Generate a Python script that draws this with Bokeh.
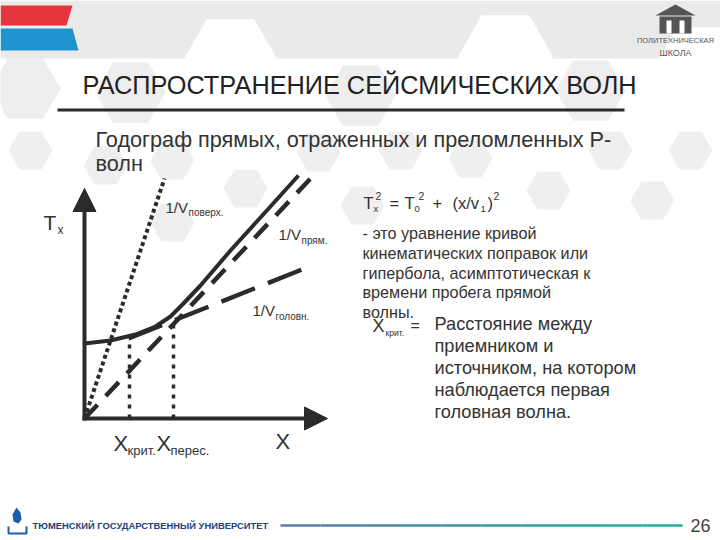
from bokeh.plotting import figure
from bokeh.models import Range1d, Arrow, NormalHead
from bokeh.core.properties import value
from bokeh.embed import file_html
from bokeh.resources import INLINE

# ---------------- data (diagram units) ----------------
refl_x = [0.0, 1.3, 2.55, 3.55, 4.3, 4.9, 5.8, 7.3, 8.8, 10.7]
refl_t = [3.75, 3.9, 4.2, 4.6, 5.1, 5.7, 6.65, 8.4, 10.05, 12.15]
direct_x = [0.0, 11.4]
direct_t = [0.0, 12.1]
head_x = [2.2, 11.0]
head_t = [4.0, 7.5]
surface_x = [0.0, 4.0]
surface_t = [0.0, 12.0]
x_marks = [2.25, 4.45]          # X крит., X перес.
t_marks = [4.0, 4.8]
axis_x_end = 12.15
axis_t_end = 11.5

# ---------------- texts ----------------
title = "РАСПРОСТРАНЕНИЕ СЕЙСМИЧЕСКИХ ВОЛН"
subtitle = ["Годограф прямых, отраженных и преломленных P-", "волн"]
eq_lines = ["- это уравнение кривой", "кинематических поправок или",
            "гипербола, асимптотическая к", "времени пробега прямой", "волны."]
def_lines = ["Расстояние между", "приемником и", "источником, на котором",
             "наблюдается первая", "головная волна."]
footer = "ТЮМЕНСКИЙ ГОСУДАРСТВЕННЫЙ УНИВЕРСИТЕТ"
page_no = "26"

FONT = "Liberation Sans"
INK = "#2b2b2b"
TXT = "#333333"

W, H = 720, 540
p = figure(width=W, height=H, x_range=Range1d(0, W), y_range=Range1d(H, 0),
           output_backend="svg", toolbar_location=None, min_border=0,
           outline_line_color=None, background_fill_color="white")
p.axis.visible = False
p.grid.visible = False

# diagram coordinate system (origin at pixel 84,418; 20 px per unit)
OX, OY, U = 84.0, 418.0, 20.0
p.extra_x_ranges = {"dx": Range1d((0 - OX) / U, (W - OX) / U)}
p.extra_y_ranges = {"dt": Range1d((OY - H) / U, (OY - 0) / U)}
D = dict(x_range_name="dx", y_range_name="dt")

def txt(x, y, s, size, color=TXT, font=FONT, align="left", style="normal", **kw):
    xs = x if isinstance(x, list) else [x]
    ys = y if isinstance(y, list) else [y]
    ss = s if isinstance(s, list) else [s]
    p.text(x=xs, y=ys, text=ss, text_font=value(font), text_font_size=f"{size}px",
           text_color=color, text_align=align, text_baseline="middle",
           text_font_style=style, **kw)

# ---------------- background decoration ----------------
p.quad(left=[0], right=[W], top=[0], bottom=[58], fill_color="#eaeaea", line_color=None)
p.scatter(x=[230, 505, 700], y=[60, 56, 68], size=95, marker="hex",
          fill_color="white", line_color=None)
p.scatter(x=[25, 130, 360, 590], y=[88, 92, 95, 90], size=70, marker="hex",
          fill_color="#eeeeee", line_color=None)
hx = [30, 105, 172, 318, 400, 470, 610, 690, 245, 548, 652, 172, 362]
hy = [150, 165, 160, 152, 150, 158, 150, 150, 188, 190, 200, 222, 205]
p.scatter(x=hx, y=hy, size=44, marker="hex", fill_color="#efefef", line_color=None)

# top-left flag
p.patch([0, 72, 66, 0], [5, 5, 25, 25], fill_color="#e4353c", line_color=None)
p.patch([0, 72, 78, 0], [28, 28, 50, 50], fill_color="#1f93cf", line_color=None)

# building logo
p.patch([655, 675, 695], [15, 4, 15], fill_color="#555555", line_color=None)
p.quad(left=[659], right=[691], top=[16], bottom=[33], fill_color="#555555", line_color=None)
p.quad(left=[666, 679], right=[671, 684], top=[20, 20], bottom=[33, 33],
       fill_color="white", line_color=None)
txt(675, 40, "ПОЛИТЕХНИЧЕСКАЯ", 7.5, color="#555555", align="center")
txt(675, 52, "ШКОЛА", 9, color="#555555", align="center")

# title + underline
txt(82, 84, title, 25.3, color="#222222")
p.line([57, 624], [109.5, 109.5], line_width=3, line_color="#2a2a2a")

# subtitle
txt([95, 95], [139, 163], subtitle, 21.7)

# ---------------- diagram ----------------
p.line(surface_x, surface_t, line_width=4, line_color=INK, line_dash="4 3", **D)
for xm, tm in zip(x_marks, t_marks):
    p.line([xm, xm], [0, tm], line_width=3.5, line_color=INK, line_dash="4 6", **D)
p.line(direct_x, direct_t, line_width=4.5, line_color=INK, line_dash="19 12", **D)
p.line(head_x, head_t, line_width=4.5, line_color=INK, line_dash="36 14", **D)
p.line(refl_x, refl_t, line_width=4, line_color=INK, **D)

head = dict(size=23, fill_color=INK, line_color=INK, line_width=1)
p.add_layout(Arrow(end=NormalHead(**head), x_start=0, y_start=-0.1, x_end=0, y_end=axis_t_end,
                   line_width=4, line_color=INK, **D))
p.add_layout(Arrow(end=NormalHead(**head), x_start=-0.1, y_start=0, x_end=axis_x_end, y_end=0,
                   line_width=4, line_color=INK, **D))

# diagram labels
txt(43, 222, "T", 21)
txt(57, 229, "x", 12)
txt(165, 207, "1/V", 15)
txt(188, 212, "поверх.", 10)
txt(278, 234, "1/V", 15)
txt(301, 240, "прям.", 10)
txt(252, 310, "1/V", 15)
txt(275, 316, "головн.", 10)
txt(113, 443, "X", 22)
txt(127, 450, "крит.", 13)
txt(156, 443, "X", 22)
txt(170, 450, "перес.", 13)
txt(275, 441, "X", 22)

# formula  Tx^2 = T0^2 + (x/v1)^2
txt(363, 202, "T", 16.5)
txt(373, 208, "x", 9.5)
txt(375, 195, "2", 10.5)
txt(389, 202, "=", 16.5)
txt(404, 202, "T", 16.5)
txt(414, 208, "0", 9.5)
txt(418, 195, "2", 10.5)
txt(432, 202, "+", 16.5)
txt(452, 202, "(x/v", 16.5)
txt(480, 208, "1", 9.5)
txt(487, 202, ")", 16.5)
txt(493, 195, "2", 10.5)

ys = [232.4 + 19.8 * i for i in range(len(eq_lines))]
txt([362] * len(eq_lines), ys, eq_lines, 16.2)

txt(372, 325, "X", 18)
txt(385, 332, "крит.", 8.5)
txt(410, 325, "=", 16)
ys = [323 + 22.2 * i for i in range(len(def_lines))]
txt([434] * len(def_lines), ys, def_lines, 18.2)

# ---------------- footer ----------------
p.patch([16, 20, 21, 18, 13, 12], [507, 512, 519, 523, 521, 514], fill_color="#1b5ea8", line_color=None)
p.line([8, 8, 26, 26], [526, 533, 533, 526], line_width=2, line_color="#1b5ea8")
txt(32, 525, footer, 9.4, color="#243f78", style="bold")
c0, c1 = (0x5a, 0x7c, 0xa8), (0x1f, 0xb0, 0x9a)
n = 10
for i in range(n):
    f = i / (n - 1)
    col = "#%02x%02x%02x" % tuple(int(a + (b - a) * f) for a, b in zip(c0, c1))
    x0 = 280 + (682 - 280) * i / n
    x1 = 280 + (682 - 280) * (i + 1) / n
    p.line([x0, x1], [525, 525], line_width=2.5, line_color=col)
txt(700, 525, page_no, 18, color="#444444", align="center")

open("out.html", "w").write(file_html(p, INLINE))
